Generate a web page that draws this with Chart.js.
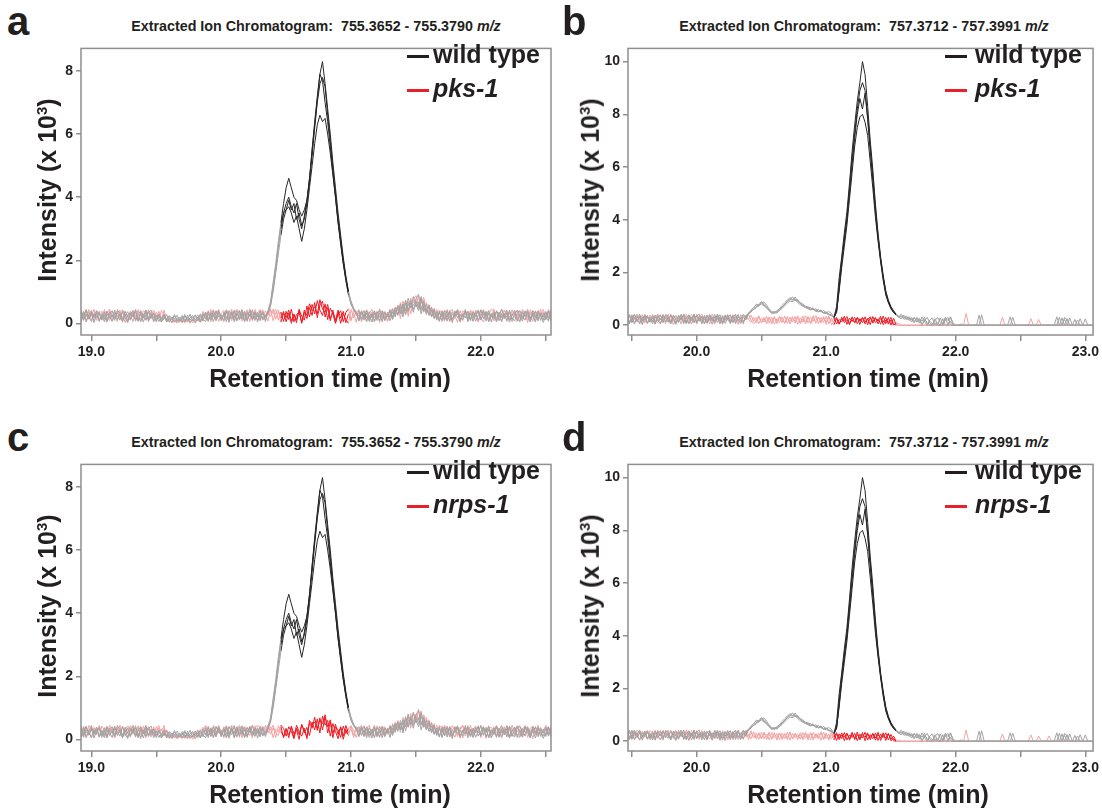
<!DOCTYPE html>
<html>
<head>
<meta charset="utf-8">
<script src="https://cdn.jsdelivr.net/npm/chart.js@4.4.1/dist/chart.umd.min.js"></script>
<style>
body{margin:0;background:#fff;width:1102px;height:809px;position:relative;overflow:hidden;font-family:"Liberation Sans",Arial,sans-serif;color:#231f20}
canvas{position:absolute}
.t{position:absolute;font-weight:bold;white-space:nowrap;line-height:1}
.c{transform:translateX(-50%)}
.letter{font-size:40px}
.ttl{font-size:14.3px}
.xt{font-size:25px}
.yt{font-size:25px;transform:translate(-50%,-50%) rotate(-90deg)}
.leg{font-size:25px}
.sw{position:absolute;height:2.5px;width:22px}
</style>
</head>
<body>

<canvas id="chartA" width="516" height="330" style="left:40px;top:37px"></canvas>
<canvas id="chartB" width="515" height="330" style="left:587px;top:37px"></canvas>
<canvas id="chartC" width="516" height="330" style="left:40px;top:453px"></canvas>
<canvas id="chartD" width="515" height="330" style="left:587px;top:453px"></canvas>

<!-- panel a -->
<div class="t letter" style="left:7px;top:1px">a</div>
<div class="t ttl c" style="left:316px;top:19px">Extracted Ion Chromatogram:&nbsp; 755.3652 - 755.3790 <i>m/z</i></div>
<div class="sw" style="left:407px;top:55px;background:#231f20"></div>
<div class="t leg" style="left:433px;top:42px">wild type</div>
<div class="sw" style="left:407px;top:89px;background:#e8202a"></div>
<div class="t leg" style="left:433px;top:76px"><i>pks-1</i></div>
<div class="t xt c" style="left:330px;top:366px">Retention time (min)</div>
<div class="t yt" style="left:47px;top:190px">Intensity (x 10<sup style="font-size:15px">3</sup>)</div>

<!-- panel b -->
<div class="t letter" style="left:562px;top:1px">b</div>
<div class="t ttl c" style="left:864px;top:19px">Extracted Ion Chromatogram:&nbsp; 757.3712 - 757.3991 <i>m/z</i></div>
<div class="sw" style="left:945px;top:55px;background:#231f20"></div>
<div class="t leg" style="left:975px;top:42px">wild type</div>
<div class="sw" style="left:945px;top:89px;background:#e8202a"></div>
<div class="t leg" style="left:975px;top:76px"><i>pks-1</i></div>
<div class="t xt c" style="left:868px;top:366px">Retention time (min)</div>
<div class="t yt" style="left:590px;top:190px">Intensity (x 10<sup style="font-size:15px">3</sup>)</div>

<!-- panel c -->
<div class="t letter" style="left:7px;top:417px">c</div>
<div class="t ttl c" style="left:316px;top:435px">Extracted Ion Chromatogram:&nbsp; 755.3652 - 755.3790 <i>m/z</i></div>
<div class="sw" style="left:407px;top:471px;background:#231f20"></div>
<div class="t leg" style="left:433px;top:458px">wild type</div>
<div class="sw" style="left:407px;top:505px;background:#e8202a"></div>
<div class="t leg" style="left:433px;top:492px"><i>nrps-1</i></div>
<div class="t xt c" style="left:330px;top:782px">Retention time (min)</div>
<div class="t yt" style="left:47px;top:606px">Intensity (x 10<sup style="font-size:15px">3</sup>)</div>

<!-- panel d -->
<div class="t letter" style="left:562px;top:417px">d</div>
<div class="t ttl c" style="left:864px;top:435px">Extracted Ion Chromatogram:&nbsp; 757.3712 - 757.3991 <i>m/z</i></div>
<div class="sw" style="left:945px;top:471px;background:#231f20"></div>
<div class="t leg" style="left:975px;top:458px">wild type</div>
<div class="sw" style="left:945px;top:505px;background:#e8202a"></div>
<div class="t leg" style="left:975px;top:492px"><i>nrps-1</i></div>
<div class="t xt c" style="left:868px;top:782px">Retention time (min)</div>
<div class="t yt" style="left:590px;top:606px">Intensity (x 10<sup style="font-size:15px">3</sup>)</div>

<script>
/* DATA (intensity x 10^3, one scan every 0.02 min) */
const start755 = 18.90;   // first scan, panels a + c
const start757 = 19.46;   // first scan, panels b + d
const scanStep = 0.02;

const xTicks755 = [19.0, 20.0, 21.0, 22.0];
const xTicks757 = [20.0, 21.0, 22.0, 23.0];

/* 755 m/z, wild type (same runs shown in a and c) */
const wt755_1 = [
0.08,0.34,0.15,0.4,0.22,0.05,0.31,0.18,0.38,0.1,
0.27,0.04,0.35,0.19,0.42,0.12,0.3,0.06,0.25,0.37,
0.14,0.33,0.07,0.28,0.41,0.16,0.36,0.09,0.24,0.32,
0.05,0.3,0.12,0.26,0.04,0.22,0.1,0.28,0.06,0.2,
0.03,0.24,0.11,0.29,0.07,0.18,0.27,0.05,0.32,0.13,
0.38,0.1,0.3,0.16,0.41,0.08,0.35,0.2,0.06,0.33,
0.19,0.4,0.11,0.3,0.05,0.36,0.22,0.43,0.14,0.29,
0.08,0.35,0.18,0.4,0.7,1.3,1.9,2.6,3.2,3.8,
4.3,4.6,4.3,4.0,3.9,3.6,3.4,3.6,3.9,4.5,
5.5,6.3,7.1,7.9,8.3,7.6,6.8,6.0,5.1,4.3,
3.5,2.8,2.1,1.5,1.0,0.65,0.45,0.35,0.22,0.38,
0.1,0.33,0.06,0.27,0.4,0.15,0.31,0.05,0.36,0.2,
0.42,0.18,0.5,0.25,0.6,0.3,0.72,0.4,0.65,0.35,
0.78,0.92,0.45,0.7,0.3,0.55,0.2,0.45,0.12,0.38,
0.06,0.32,0.2,0.41,0.09,0.28,0.36,0.04,0.3,0.17,
0.39,0.12,0.33,0.07,0.25,0.43,0.15,0.35,0.05,0.29,
0.2,0.38,0.08,0.31,0.16,0.42,0.1,0.27,0.37,0.06,
0.3,0.14,0.4,0.21,0.05,0.34,0.18,0.39,0.09,0.32,
0.12,0.36,0.2];
const wt755_2 = [
0.3,0.12,0.38,0.05,0.26,0.41,0.17,0.33,0.07,0.29,
0.14,0.39,0.21,0.06,0.34,0.25,0.1,0.4,0.18,0.02,
0.35,0.2,0.43,0.11,0.3,0.04,0.27,0.38,0.15,0.32,
0.22,0.06,0.18,0.29,0.09,0.15,0.03,0.24,0.12,0.07,
0.19,0.05,0.26,0.1,0.21,0.02,0.15,0.3,0.08,0.36,
0.12,0.31,0.05,0.4,0.2,0.27,0.09,0.37,0.24,0.15,
0.42,0.07,0.33,0.23,0.39,0.1,0.28,0.16,0.36,0.04,
0.31,0.14,0.26,0.35,0.6,1.1,1.7,2.4,3.0,3.5,
3.8,4.0,3.7,3.5,3.8,3.3,3.0,3.4,3.9,4.6,
5.3,6.2,7.0,7.6,7.8,7.5,6.6,5.8,4.9,4.1,
3.3,2.6,1.9,1.35,0.9,0.6,0.42,0.33,0.4,0.12,
0.29,0.05,0.37,0.18,0.32,0.09,0.41,0.24,0.11,0.35,
0.2,0.45,0.28,0.56,0.33,0.62,0.4,0.8,0.48,0.58,
0.7,0.5,0.85,0.38,0.6,0.25,0.42,0.18,0.36,0.1,
0.34,0.15,0.4,0.08,0.29,0.21,0.43,0.13,0.26,0.38,
0.05,0.3,0.17,0.37,0.11,0.24,0.4,0.07,0.32,0.19,
0.36,0.1,0.28,0.44,0.15,0.33,0.04,0.25,0.39,0.14,
0.06,0.35,0.22,0.3,0.12,0.41,0.26,0.08,0.34,0.2,
0.38,0.1,0.27];
const wt755_3 = [
0.2,0.41,0.09,0.3,0.16,0.36,0.04,0.27,0.33,0.13,
0.37,0.08,0.29,0.4,0.15,0.32,0.22,0.05,0.38,0.19,
0.1,0.28,0.36,0.06,0.34,0.2,0.42,0.13,0.3,0.05,
0.27,0.14,0.04,0.2,0.11,0.25,0.16,0.05,0.18,0.09,
0.14,0.28,0.06,0.17,0.25,0.1,0.2,0.04,0.23,0.28,
0.06,0.35,0.22,0.11,0.38,0.15,0.3,0.05,0.41,0.26,
0.1,0.32,0.18,0.42,0.08,0.26,0.37,0.12,0.33,0.2,
0.4,0.1,0.24,0.3,0.55,1.0,1.6,2.2,2.8,3.3,
3.6,3.7,3.5,3.2,3.4,3.0,2.6,3.0,3.6,4.3,
5.0,5.7,6.3,6.6,6.4,6.5,6.0,5.4,4.7,4.0,
3.2,2.5,1.9,1.4,0.95,0.6,0.45,0.32,0.12,0.36,
0.22,0.4,0.13,0.3,0.06,0.38,0.19,0.33,0.08,0.27,
0.35,0.12,0.42,0.3,0.52,0.2,0.66,0.38,0.72,0.44,
0.6,0.4,0.75,0.48,0.35,0.58,0.22,0.4,0.16,0.33,
0.2,0.4,0.07,0.35,0.14,0.3,0.42,0.11,0.24,0.36,
0.28,0.08,0.36,0.2,0.43,0.13,0.27,0.38,0.06,0.31,
0.15,0.4,0.25,0.05,0.32,0.19,0.37,0.1,0.29,0.42,
0.23,0.07,0.33,0.4,0.16,0.28,0.04,0.36,0.21,0.11,
0.33,0.18,0.4];
const wt755_4 = [
0.36,0.06,0.25,0.42,0.13,0.3,0.2,0.39,0.08,0.24,
0.05,0.31,0.16,0.27,0.09,0.4,0.34,0.13,0.29,0.07,
0.26,0.41,0.12,0.19,0.06,0.3,0.1,0.35,0.42,0.17,
0.12,0.25,0.08,0.14,0.28,0.04,0.2,0.13,0.26,0.1,
0.25,0.09,0.19,0.03,0.12,0.27,0.08,0.22,0.14,0.05,
0.29,0.17,0.4,0.08,0.33,0.13,0.22,0.43,0.11,0.37,
0.05,0.27,0.39,0.15,0.31,0.06,0.41,0.24,0.09,0.35,
0.18,0.38,0.09,0.33,0.6,1.2,1.8,2.5,3.1,3.5,
3.6,3.9,3.6,3.8,3.3,3.5,3.1,3.3,3.8,4.6,
5.5,6.4,7.2,7.9,7.7,7.0,6.4,5.6,4.8,4.0,
3.2,2.6,2.0,1.45,1.0,0.7,0.48,0.36,0.08,0.3,
0.41,0.17,0.26,0.04,0.34,0.22,0.09,0.39,0.16,0.3,
0.08,0.36,0.22,0.48,0.3,0.56,0.27,0.62,0.5,0.85,
0.52,0.68,0.3,0.62,0.45,0.28,0.5,0.15,0.3,0.07,
0.38,0.11,0.25,0.33,0.02,0.4,0.18,0.29,0.12,0.44,
0.14,0.33,0.07,0.28,0.39,0.1,0.36,0.22,0.41,0.04,
0.31,0.06,0.36,0.2,0.28,0.09,0.42,0.17,0.07,0.34,
0.4,0.24,0.1,0.36,0.05,0.27,0.38,0.15,0.3,0.03,
0.21,0.4,0.08];

/* 755 m/z, pks-1 (panel a) */
const pks755_1 = [
0.42,0.11,0.33,0.04,0.38,0.22,0.45,0.09,0.3,0.17,
0.36,0.06,0.41,0.25,0.13,0.44,0.19,0.35,0.02,0.28,
0.15,0.4,0.23,0.07,0.37,0.3,0.1,0.43,0.2,0.34,
0.05,0.38,0.16,0.3,0.1,0.06,0.14,0.02,0.11,0.04,
0.09,0.01,0.13,0.05,0.1,0.03,0.16,0.25,0.07,0.35,
0.12,0.44,0.2,0.38,0.06,0.32,0.41,0.14,0.37,0.08,
0.3,0.45,0.1,0.36,0.22,0.43,0.05,0.39,0.18,0.33,
0.44,0.12,0.4,0.26,0.46,0.08,0.35,0.42,0.16,0.38,
0.05,0.32,0.0,0.26,0.12,0.4,0.03,0.35,0.15,0.5,
0.25,0.66,0.18,0.58,0.7,0.2,0.5,0.08,0.42,0.02,
0.36,0.0,0.3,0.12,0.0,0.44,0.18,0.38,0.07,0.41,
0.14,0.43,0.26,0.05,0.39,0.2,0.46,0.1,0.33,0.24,
0.45,0.15,0.52,0.28,0.66,0.35,0.74,0.22,0.8,0.45,
0.62,0.85,0.4,0.75,0.28,0.58,0.2,0.48,0.1,0.42,
0.3,0.06,0.44,0.17,0.37,0.25,0.03,0.4,0.21,0.35,
0.09,0.42,0.26,0.36,0.05,0.31,0.44,0.13,0.39,0.2,
0.45,0.16,0.33,0.07,0.4,0.27,0.11,0.43,0.19,0.3,
0.05,0.38,0.2,0.45,0.14,0.34,0.08,0.41,0.25,0.36,
0.12,0.44,0.28];
const pks755_2 = [
0.07,0.39,0.24,0.45,0.16,0.33,0.02,0.41,0.28,0.13,
0.44,0.2,0.09,0.37,0.3,0.05,0.42,0.15,0.39,0.24,
0.33,0.05,0.44,0.26,0.12,0.4,0.35,0.04,0.29,0.42,
0.2,0.31,0.04,0.42,0.08,0.12,0.03,0.09,0.01,0.07,
0.12,0.04,0.08,0.0,0.14,0.06,0.1,0.03,0.3,0.18,
0.4,0.05,0.34,0.27,0.44,0.1,0.26,0.38,0.02,0.45,
0.16,0.3,0.42,0.07,0.37,0.14,0.46,0.26,0.4,0.09,
0.33,0.43,0.05,0.39,0.22,0.45,0.13,0.37,0.04,0.32,
0.18,0.42,0.08,0.3,0.02,0.45,0.22,0.1,0.55,0.2,
0.6,0.3,0.72,0.42,0.25,0.62,0.12,0.48,0.3,0.0,
0.28,0.4,0.05,0.35,0.46,0.1,0.32,0.03,0.44,0.15,
0.38,0.07,0.3,0.45,0.18,0.35,0.02,0.41,0.27,0.12,
0.3,0.48,0.2,0.58,0.4,0.7,0.3,0.62,0.5,0.75,
0.88,0.55,0.78,0.35,0.66,0.3,0.52,0.16,0.4,0.06,
0.41,0.24,0.1,0.36,0.45,0.15,0.33,0.07,0.4,0.28,
0.35,0.12,0.4,0.2,0.04,0.43,0.26,0.37,0.14,0.31,
0.08,0.37,0.22,0.45,0.3,0.06,0.35,0.24,0.42,0.13,
0.4,0.18,0.32,0.02,0.43,0.25,0.38,0.1,0.3,0.44,
0.2,0.06,0.39];
const pks755_3 = [
0.3,0.05,0.36,0.2,0.44,0.1,0.27,0.4,0.06,0.39,
0.12,0.33,0.45,0.08,0.28,0.38,0.14,0.43,0.26,0.1,
0.39,0.28,0.12,0.44,0.06,0.25,0.41,0.18,0.36,0.08,
0.35,0.14,0.41,0.22,0.05,0.15,0.02,0.12,0.04,0.1,
0.02,0.1,0.06,0.13,0.02,0.09,0.2,0.12,0.38,0.24,
0.07,0.3,0.43,0.16,0.39,0.22,0.05,0.42,0.3,0.18,
0.38,0.08,0.26,0.45,0.12,0.34,0.27,0.08,0.44,0.22,
0.12,0.36,0.28,0.07,0.42,0.3,0.45,0.1,0.36,0.06,
0.38,0.12,0.45,0.05,0.28,0.36,0.0,0.42,0.25,0.62,
0.4,0.52,0.3,0.75,0.45,0.35,0.6,0.15,0.36,0.1,
0.42,0.16,0.38,0.02,0.3,0.08,0.43,0.25,0.35,0.05,
0.27,0.42,0.1,0.36,0.04,0.3,0.44,0.17,0.38,0.06,
0.22,0.4,0.35,0.55,0.15,0.62,0.45,0.68,0.3,0.7,
0.72,0.45,0.65,0.82,0.4,0.6,0.35,0.25,0.44,0.18,
0.12,0.42,0.3,0.05,0.36,0.2,0.44,0.28,0.08,0.4,
0.25,0.38,0.06,0.42,0.3,0.17,0.04,0.36,0.26,0.45,
0.38,0.04,0.29,0.16,0.42,0.34,0.22,0.05,0.31,0.41,
0.16,0.44,0.28,0.12,0.35,0.06,0.4,0.22,0.45,0.1,
0.35,0.25,0.42];

/* 755 m/z, nrps-1 (panel c) */
const nrps755_1 = [
0.35,0.08,0.42,0.2,0.3,0.04,0.38,0.15,0.44,0.26,
0.1,0.4,0.22,0.34,0.06,0.45,0.28,0.12,0.37,0.19,
0.43,0.16,0.3,0.05,0.39,0.24,0.45,0.1,0.33,0.22,
0.28,0.44,0.07,0.35,0.12,0.04,0.1,0.15,0.02,0.08,
0.05,0.12,0.01,0.1,0.04,0.14,0.22,0.08,0.33,0.4,
0.15,0.37,0.06,0.42,0.25,0.1,0.4,0.31,0.03,0.36,
0.44,0.18,0.33,0.05,0.4,0.27,0.12,0.46,0.2,0.38,
0.09,0.41,0.3,0.45,0.16,0.37,0.06,0.43,0.25,0.1,
0.35,0.05,0.42,0.18,0.3,0.0,0.48,0.2,0.38,0.12,
0.55,0.3,0.65,0.2,0.74,0.45,0.6,0.1,0.5,0.25,
0.02,0.38,0.1,0.44,0.2,0.33,0.06,0.4,0.28,0.15,
0.43,0.12,0.36,0.24,0.45,0.08,0.3,0.41,0.18,0.34,
0.05,0.5,0.3,0.6,0.22,0.7,0.4,0.78,0.35,0.86,
0.55,0.95,0.48,0.7,0.3,0.62,0.25,0.5,0.15,0.38,
0.42,0.2,0.35,0.08,0.44,0.27,0.12,0.38,0.04,0.31,
0.18,0.45,0.1,0.33,0.4,0.05,0.36,0.24,0.43,0.14,
0.4,0.22,0.06,0.37,0.15,0.44,0.3,0.09,0.35,0.25,
0.33,0.07,0.42,0.26,0.12,0.39,0.2,0.45,0.1,0.3,
0.41,0.15,0.34];
const nrps755_2 = [
0.12,0.4,0.27,0.06,0.44,0.33,0.15,0.38,0.08,0.42,
0.3,0.14,0.45,0.26,0.04,0.36,0.2,0.42,0.1,0.35,
0.07,0.34,0.2,0.43,0.15,0.31,0.05,0.4,0.27,0.12,
0.4,0.24,0.33,0.1,0.3,0.09,0.02,0.13,0.06,0.11,
0.1,0.03,0.15,0.07,0.12,0.2,0.05,0.28,0.38,0.15,
0.42,0.2,0.3,0.08,0.45,0.16,0.35,0.05,0.4,0.27,
0.22,0.38,0.06,0.43,0.3,0.1,0.41,0.18,0.35,0.45,
0.36,0.15,0.44,0.2,0.4,0.05,0.32,0.24,0.45,0.35,
0.1,0.4,0.25,0.02,0.36,0.15,0.45,0.3,0.08,0.52,
0.35,0.7,0.28,0.62,0.5,0.78,0.2,0.55,0.05,0.4,
0.3,0.06,0.42,0.18,0.35,0.44,0.12,0.37,0.22,0.43,
0.08,0.39,0.2,0.32,0.05,0.43,0.27,0.14,0.4,0.22,
0.45,0.25,0.55,0.35,0.5,0.25,0.68,0.45,0.82,0.5,
0.8,0.62,0.9,0.42,0.7,0.38,0.55,0.2,0.45,0.12,
0.3,0.44,0.15,0.4,0.22,0.06,0.36,0.29,0.43,0.1,
0.4,0.25,0.05,0.38,0.2,0.45,0.12,0.33,0.28,0.07,
0.16,0.43,0.3,0.1,0.4,0.24,0.05,0.45,0.18,0.37,
0.44,0.26,0.13,0.38,0.3,0.02,0.41,0.17,0.35,0.24,
0.08,0.4,0.22];
const nrps755_3 = [
0.44,0.2,0.06,0.35,0.25,0.45,0.12,0.3,0.4,0.05,
0.26,0.42,0.1,0.3,0.38,0.16,0.45,0.06,0.33,0.43,
0.28,0.45,0.12,0.36,0.02,0.42,0.18,0.35,0.07,0.4,
0.15,0.36,0.26,0.44,0.05,0.16,0.06,0.1,0.03,0.14,
0.08,0.15,0.04,0.11,0.01,0.08,0.3,0.16,0.24,0.44,
0.3,0.08,0.44,0.22,0.36,0.3,0.05,0.41,0.17,0.45,
0.06,0.33,0.45,0.24,0.12,0.4,0.3,0.04,0.43,0.16,
0.42,0.28,0.1,0.38,0.3,0.45,0.2,0.12,0.4,0.05,
0.3,0.15,0.38,0.06,0.45,0.25,0.1,0.35,0.02,0.6,
0.45,0.55,0.35,0.68,0.3,0.72,0.4,0.62,0.18,0.48,
0.15,0.4,0.0,0.32,0.12,0.42,0.3,0.06,0.36,0.44,
0.2,0.35,0.45,0.12,0.38,0.25,0.05,0.43,0.3,0.16,
0.38,0.2,0.45,0.52,0.3,0.6,0.5,0.72,0.45,0.65,
0.75,0.7,0.5,0.78,0.45,0.52,0.3,0.4,0.22,0.45,
0.06,0.35,0.42,0.16,0.3,0.4,0.08,0.33,0.45,0.2,
0.44,0.14,0.3,0.42,0.1,0.26,0.4,0.03,0.35,0.38,
0.28,0.45,0.13,0.25,0.38,0.07,0.4,0.32,0.12,0.44,
0.1,0.3,0.44,0.06,0.35,0.42,0.14,0.28,0.38,0.2,
0.45,0.3,0.1];

/* 757 m/z, wild type (same runs shown in b and d) */
const wt757_1 = [
0.08,0.35,0.15,0.4,0.22,0.05,0.32,0.18,0.38,0.11,
0.28,0.04,0.36,0.2,0.41,0.13,0.3,0.07,0.26,0.37,
0.14,0.33,0.06,0.28,0.4,0.17,0.36,0.09,0.25,0.31,
0.05,0.38,0.2,0.3,0.1,0.42,0.16,0.35,0.07,0.29,
0.4,0.12,0.33,0.22,0.06,0.37,0.25,0.42,0.5,0.62,
0.7,0.78,0.86,0.88,0.76,0.62,0.52,0.48,0.55,0.63,
0.75,0.86,0.95,1.05,0.98,1.0,0.9,0.86,0.8,0.72,
0.7,0.62,0.66,0.55,0.6,0.5,0.56,0.47,0.52,0.45,
0.3,0.7,1.8,2.6,3.5,4.3,5.4,6.6,7.6,8.5,
9.2,10.0,9.5,8.3,7.0,5.9,4.6,3.5,2.6,1.9,
1.3,0.95,0.7,0.55,0.42,0.35,0.3,0.38,0.25,0.32,
0.2,0.28,0.12,0.22,0.05,0.18,0.3,0.08,0,0.1,
0,0.28,0.05,0.3,0,0.15,0,0,0,0,
0,0,0,0,0,0,0.38,0,0,0,
0,0,0,0,0,0,0,0,0,0.3,
0,0,0,0,0,0,0,0,0,0,
0,0,0,0,0,0,0.32,0,0.28,0,
0.25,0,0,0.22,0,0,0,0,0,0,
0,0];
const wt757_2 = [
0.32,0.1,0.4,0.06,0.27,0.42,0.16,0.34,0.08,0.3,
0.15,0.39,0.22,0.05,0.35,0.26,0.11,0.4,0.18,0.03,
0.36,0.2,0.43,0.12,0.3,0.05,0.28,0.38,0.15,0.33,
0.22,0.07,0.35,0.16,0.41,0.1,0.3,0.04,0.37,0.2,
0.09,0.34,0.18,0.41,0.13,0.3,0.2,0.45,0.55,0.68,
0.76,0.72,0.85,0.8,0.7,0.55,0.44,0.5,0.46,0.58,
0.68,0.8,0.9,0.96,1.08,0.94,0.98,0.82,0.76,0.7,
0.64,0.68,0.58,0.62,0.52,0.57,0.48,0.5,0.43,0.4,
0.32,0.55,1.5,2.5,3.3,4.1,5.2,6.3,7.3,8.2,
8.9,9.2,8.9,7.9,6.8,5.6,4.4,3.4,2.5,1.8,
1.25,0.9,0.68,0.5,0.4,0.33,0.42,0.28,0.35,0.22,
0.3,0.15,0.25,0.08,0.32,0.12,0,0.2,0.28,0,
0.1,0,0.25,0,0,0.3,0.08,0,0,0,
0,0,0,0,0,0,0,0,0,0,
0,0,0,0,0,0,0,0,0.32,0,
0,0,0,0,0,0,0,0,0,0,
0,0,0,0,0,0,0,0.3,0,0.22,
0,0.28,0,0,0,0.25,0,0,0,0,
0,0];
const wt757_3 = [
0.2,0.41,0.09,0.3,0.16,0.36,0.04,0.27,0.33,0.13,
0.37,0.08,0.29,0.4,0.15,0.32,0.22,0.05,0.38,0.19,
0.1,0.28,0.36,0.06,0.34,0.2,0.42,0.13,0.3,0.05,
0.38,0.15,0.27,0.04,0.33,0.22,0.4,0.12,0.26,0.36,
0.06,0.3,0.42,0.15,0.28,0.1,0.38,0.4,0.58,0.66,
0.8,0.78,0.9,0.76,0.66,0.58,0.5,0.44,0.52,0.6,
0.7,0.78,0.92,1.02,0.93,1.07,0.92,0.84,0.78,0.66,
0.68,0.6,0.63,0.52,0.58,0.53,0.45,0.5,0.42,0.38,
0.28,0.5,1.4,2.4,3.2,4.0,5.0,6.1,7.1,8.0,
8.6,8.2,8.8,7.8,6.6,5.5,4.3,3.3,2.5,1.8,
1.2,0.88,0.65,0.52,0.38,0.3,0.36,0.22,0.3,0.18,
0.25,0.1,0.3,0.18,0,0.22,0.1,0,0,0.25,
0,0,0,0.2,0.3,0,0,0,0,0.05,
0,0,0,0,0,0,0,0,0,0,
0,0,0,0,0,0,0,0,0,0,
0,0,0,0,0,0,0,0,0,0,
0,0,0,0,0,0,0,0,0,0,
0,0,0,0,0.2,0,0,0.24,0,0,
0,0];
const wt757_4 = [
0.36,0.06,0.25,0.42,0.13,0.3,0.2,0.39,0.08,0.24,
0.05,0.31,0.16,0.27,0.09,0.4,0.34,0.13,0.29,0.07,
0.26,0.41,0.12,0.19,0.06,0.3,0.1,0.35,0.42,0.17,
0.3,0.09,0.4,0.24,0.14,0.36,0.05,0.28,0.19,0.41,
0.15,0.37,0.07,0.31,0.24,0.42,0.3,0.47,0.52,0.6,
0.66,0.75,0.8,0.74,0.64,0.56,0.47,0.52,0.5,0.56,
0.64,0.74,0.84,0.92,0.9,0.96,0.86,0.78,0.72,0.68,
0.62,0.58,0.6,0.54,0.5,0.55,0.46,0.44,0.4,0.36,
0.3,0.5,1.3,2.2,3.0,3.8,4.8,5.8,6.8,7.5,
7.9,8.0,7.7,7.2,6.2,5.2,4.1,3.2,2.4,1.7,
1.15,0.85,0.62,0.48,0.4,0.3,0.25,0.33,0.2,0.28,
0.12,0.3,0.18,0.26,0.15,0.3,0,0.15,0.05,0.18,
0.3,0.1,0,0.28,0.18,0.32,0,0,0,0,
0,0,0,0,0,0,0,0.4,0,0,
0,0,0,0,0,0,0,0,0,0,
0,0,0,0,0,0,0,0,0,0,
0,0,0,0,0,0,0,0,0,0.3,
0.2,0,0,0,0,0,0,0,0,0,
0,0];

/* 757 m/z, pks-1 (panel b) */
const pks757_1 = [
0.42,0.11,0.33,0.04,0.38,0.22,0.4,0.09,0.3,0.17,
0.36,0.06,0.41,0.25,0.13,0.4,0.19,0.35,0.02,0.28,
0.15,0.4,0.23,0.07,0.37,0.3,0.1,0.42,0.2,0.34,
0.05,0.38,0.16,0.3,0.1,0.41,0.24,0.06,0.35,0.2,
0.33,0.08,0.4,0.18,0.29,0.04,0.37,0.22,0.12,0.3,
0.08,0.32,0.1,0.3,0.05,0.28,0.12,0.33,0.06,0.3,
0.1,0.35,0.07,0.31,0.12,0.34,0.04,0.29,0.11,0.36,
0.08,0.32,0.14,0.37,0.06,0.3,0.1,0.34,0.05,0.28,
0.02,0.25,0.05,0.3,0.1,0.22,0.02,0.32,0.08,0.28,
0.03,0.3,0.12,0.26,0.02,0.33,0.1,0.24,0.04,0.35,
0.06,0.3,0,0.26,0.02,0.08,0,0,0,0,
0,0,0,0,0,0,0,0,0,0,
0,0,0,0,0,0,0,0,0,0,
0,0.45,0,0,0,0,0,0,0,0,
0,0,0,0,0,0,0,0,0,0,
0,0,0,0,0,0,0.25,0,0,0,
0,0,0,0,0,0,0,0,0,0,
0,0,0,0,0,0,0,0,0,0,
0,0];
const pks757_2 = [
0.07,0.39,0.24,0.42,0.16,0.33,0.02,0.41,0.28,0.13,
0.4,0.2,0.09,0.37,0.3,0.05,0.42,0.15,0.39,0.24,
0.33,0.05,0.41,0.26,0.12,0.4,0.35,0.04,0.29,0.42,
0.2,0.31,0.04,0.42,0.15,0.27,0.08,0.38,0.18,0.33,
0.1,0.36,0.25,0.03,0.4,0.14,0.3,0.21,0.38,0.15,
0.3,0.06,0.27,0.12,0.34,0.08,0.31,0.04,0.26,0.1,
0.32,0.06,0.28,0.14,0.33,0.08,0.3,0.1,0.35,0.05,
0.3,0.1,0.36,0.07,0.29,0.12,0.33,0.03,0.31,0.15,
0.28,0.05,0.22,0.12,0.34,0.03,0.27,0.15,0.3,0.06,
0.25,0.1,0.32,0.02,0.28,0.14,0.3,0.05,0.26,0.12,
0.3,0.04,0.2,0,0.1,0,0,0,0,0,
0,0,0,0,0,0,0,0,0,0,
0,0,0,0,0,0,0,0,0,0,
0,0,0,0,0,0,0,0,0,0,
0,0,0,0,0,0,0,0,0,0,
0,0,0,0,0,0,0,0,0,0.22,
0,0,0,0,0,0,0,0,0,0,
0,0,0,0,0,0,0,0,0,0,
0,0];
const pks757_3 = [
0.3,0.05,0.36,0.2,0.42,0.1,0.27,0.4,0.06,0.39,
0.12,0.33,0.42,0.08,0.28,0.38,0.14,0.41,0.26,0.1,
0.39,0.28,0.12,0.42,0.06,0.25,0.41,0.18,0.36,0.08,
0.35,0.14,0.41,0.22,0.05,0.33,0.28,0.11,0.4,0.25,
0.18,0.4,0.06,0.32,0.26,0.1,0.35,0.42,0.2,0.06,
0.15,0.36,0.09,0.25,0.14,0.32,0.05,0.27,0.15,0.34,
0.2,0.1,0.33,0.05,0.26,0.15,0.36,0.06,0.24,0.12,
0.34,0.05,0.25,0.18,0.32,0.08,0.27,0.12,0.36,0.02,
0.15,0.3,0.04,0.26,0.18,0.33,0.06,0.2,0.12,0.3,
0.15,0.28,0.05,0.22,0.32,0.08,0.26,0.16,0.34,0.02,
0.2,0.1,0.3,0.05,0,0,0,0,0,0,
0,0,0,0,0,0,0,0,0,0,
0,0,0,0,0,0,0,0,0,0,
0,0,0,0,0,0,0,0,0,0,
0,0,0,0,0,0.3,0,0,0,0,
0,0,0,0,0,0,0,0,0,0,
0,0,0,0,0,0,0,0,0,0,
0,0,0,0,0,0,0,0,0,0,
0,0];

/* 757 m/z, nrps-1 (panel d) */
const nrps757_1 = [
0.35,0.08,0.42,0.2,0.3,0.04,0.38,0.15,0.41,0.26,
0.1,0.4,0.22,0.34,0.06,0.42,0.28,0.12,0.37,0.19,
0.41,0.16,0.3,0.05,0.39,0.24,0.42,0.1,0.33,0.22,
0.28,0.04,0.36,0.15,0.4,0.09,0.31,0.24,0.02,0.38,
0.2,0.35,0.1,0.42,0.26,0.07,0.33,0.18,0.4,0.12,
0.3,0.07,0.34,0.1,0.28,0.05,0.33,0.12,0.29,0.06,
0.31,0.1,0.35,0.04,0.3,0.13,0.27,0.08,0.33,0.11,
0.28,0.06,0.34,0.12,0.3,0.04,0.35,0.1,0.27,0.08,
0.3,0.03,0.28,0.1,0.33,0.05,0.24,0.14,0.3,0.02,
0.27,0.12,0.34,0.05,0.25,0.1,0.31,0.03,0.28,0.14,
0.32,0.05,0.26,0.02,0,0,0,0,0,0,
0,0,0,0,0,0,0,0,0,0,
0,0,0,0,0,0,0,0,0,0,
0,0.42,0,0,0,0,0,0,0,0,
0,0,0,0,0,0,0,0,0,0,
0,0,0,0,0,0,0.24,0,0,0,
0,0,0,0,0,0,0,0,0,0,
0,0,0,0,0,0,0,0,0,0,
0,0];
const nrps757_2 = [
0.12,0.4,0.27,0.06,0.42,0.33,0.15,0.38,0.08,0.41,
0.3,0.14,0.42,0.26,0.04,0.36,0.2,0.41,0.1,0.35,
0.07,0.34,0.2,0.42,0.15,0.31,0.05,0.4,0.27,0.12,
0.4,0.22,0.08,0.33,0.19,0.42,0.12,0.3,0.36,0.05,
0.27,0.13,0.38,0.06,0.32,0.4,0.17,0.25,0.09,0.36,
0.08,0.28,0.13,0.35,0.06,0.27,0.1,0.32,0.04,0.31,
0.12,0.3,0.05,0.34,0.1,0.29,0.06,0.33,0.13,0.28,
0.05,0.33,0.11,0.29,0.08,0.36,0.12,0.3,0.04,0.25,
0.05,0.26,0.12,0.32,0.02,0.28,0.1,0.34,0.06,0.25,
0.1,0.33,0.02,0.27,0.14,0.3,0.04,0.26,0.12,0.32,
0.03,0.27,0.08,0.2,0,0.05,0,0,0,0,
0,0,0,0,0,0,0,0,0,0,
0,0,0,0,0,0,0,0,0,0,
0,0,0,0,0,0,0,0,0,0,
0,0,0,0,0,0.28,0,0,0,0,
0,0,0,0,0,0,0,0,0,0.2,
0,0,0,0,0,0,0,0,0,0,
0,0,0,0,0,0,0,0,0,0,
0,0];
const nrps757_3 = [
0.41,0.2,0.06,0.35,0.25,0.42,0.12,0.3,0.4,0.05,
0.26,0.41,0.1,0.3,0.38,0.16,0.42,0.06,0.33,0.4,
0.28,0.42,0.12,0.36,0.02,0.41,0.18,0.35,0.07,0.4,
0.16,0.3,0.42,0.07,0.26,0.35,0.03,0.4,0.21,0.13,
0.37,0.05,0.28,0.4,0.11,0.23,0.42,0.06,0.31,0.2,
0.16,0.33,0.08,0.3,0.15,0.35,0.07,0.26,0.14,0.32,
0.06,0.27,0.14,0.36,0.08,0.3,0.16,0.25,0.05,0.34,
0.14,0.3,0.05,0.27,0.15,0.33,0.06,0.29,0.1,0.34,
0.14,0.33,0.06,0.24,0.16,0.31,0.04,0.27,0.12,0.35,
0.05,0.25,0.15,0.32,0.06,0.28,0.12,0.34,0.03,0.26,
0.12,0.3,0.02,0.1,0,0,0,0,0,0,
0,0,0,0,0,0,0,0,0,0,
0,0,0,0,0,0,0,0,0,0,
0,0,0,0,0,0,0,0,0,0,
0,0,0,0,0,0,0,0,0,0,
0,0,0,0,0,0,0,0,0,0,
0,0,0,0.2,0,0,0,0,0,0,
0,0,0,0,0,0,0,0,0,0,
0,0];

/* COLOURS: runs are drawn dark inside the integration window, pale outside */
const WT_DARK = "#262626", WT_LIGHT = "#a3a3a3";
const MUT_DARK = "#ec1c24", MUT_LIGHT = "#f4a3a3";
const FONT = "'Liberation Sans', Arial, sans-serif";

const frame = {
  id: "frame",
  afterDatasetsDraw(chart){
    const a = chart.chartArea, g = chart.ctx;
    g.save();
    g.strokeStyle = "#8f8f8f";
    g.lineWidth = 1.5;
    g.strokeRect(a.left, a.top, a.right - a.left, a.bottom - a.top);
    g.restore();
  }
};

function points(vals, start){
  return vals.map((v, i) => ({x: Math.round((start + i * scanStep) * 100) / 100, y: v}));
}

function makeChart(id, wt, mut, start, win, xRange, yRange, xLabels){
  const inWin = c => {
    const m = (c.p0.parsed.x + c.p1.parsed.x) / 2;
    return m >= win[0] && m <= win[1];
  };
  const sets = [];
  wt.forEach(v => sets.push({data: points(v, start), borderColor: WT_DARK,
    segment: {borderColor: c => inWin(c) ? WT_DARK : WT_LIGHT}}));
  mut.forEach(v => sets.push({data: points(v, start), borderColor: MUT_DARK,
    segment: {borderColor: c => inWin(c) ? MUT_DARK : MUT_LIGHT}}));

  const tickFont = {family: FONT, size: 14, weight: "bold"};
  new Chart(document.getElementById(id), {
    type: "line",
    data: {datasets: sets},
    options: {
      responsive: false,
      animation: false,
      devicePixelRatio: 1,
      events: [],
      layout: {padding: {top: 3, right: 5, left: 0, bottom: 0}},
      elements: {point: {radius: 0}, line: {borderWidth: 1, tension: 0}},
      plugins: {legend: {display: false}, tooltip: {enabled: false}},
      scales: {
        x: {
          type: "linear", min: xRange[0], max: xRange[1],
          afterFit: s => { s.height = 32; },
          border: {display: false},
          grid: {drawOnChartArea: false, tickLength: 6, color: "#8f8f8f", lineWidth: 1.5},
          ticks: {
            stepSize: 0.5, includeBounds: false, autoSkip: false, maxRotation: 0,
            padding: 3, color: "#231f20", font: tickFont,
            callback: v => xLabels.some(t => Math.abs(t - v) < 1e-6) ? v.toFixed(1) : ""
          }
        },
        y: {
          min: yRange[0], max: yRange[1],
          afterFit: s => { s.width = 41; },
          border: {display: false},
          grid: {drawOnChartArea: false, tickLength: 5, color: "#8f8f8f", lineWidth: 1.5},
          ticks: {stepSize: 2, includeBounds: false, padding: 3, color: "#231f20", font: tickFont}
        }
      }
    },
    plugins: [frame]
  });
}

const wt755 = [wt755_1, wt755_2, wt755_3, wt755_4];
const wt757 = [wt757_1, wt757_2, wt757_3, wt757_4];

makeChart("chartA", wt755, [pks755_1, pks755_2, pks755_3], start755, [20.46, 20.98], [18.92, 22.54], [-0.37, 8.72], xTicks755);
makeChart("chartB", wt757, [pks757_1, pks757_2, pks757_3], start757, [21.06, 21.53], [19.47, 23.06], [-0.37, 10.5], xTicks757);
makeChart("chartC", wt755, [nrps755_1, nrps755_2, nrps755_3], start755, [20.46, 20.98], [18.92, 22.54], [-0.37, 8.72], xTicks755);
makeChart("chartD", wt757, [nrps757_1, nrps757_2, nrps757_3], start757, [21.06, 21.53], [19.47, 23.06], [-0.37, 10.5], xTicks757);
</script>
</body>
</html>
